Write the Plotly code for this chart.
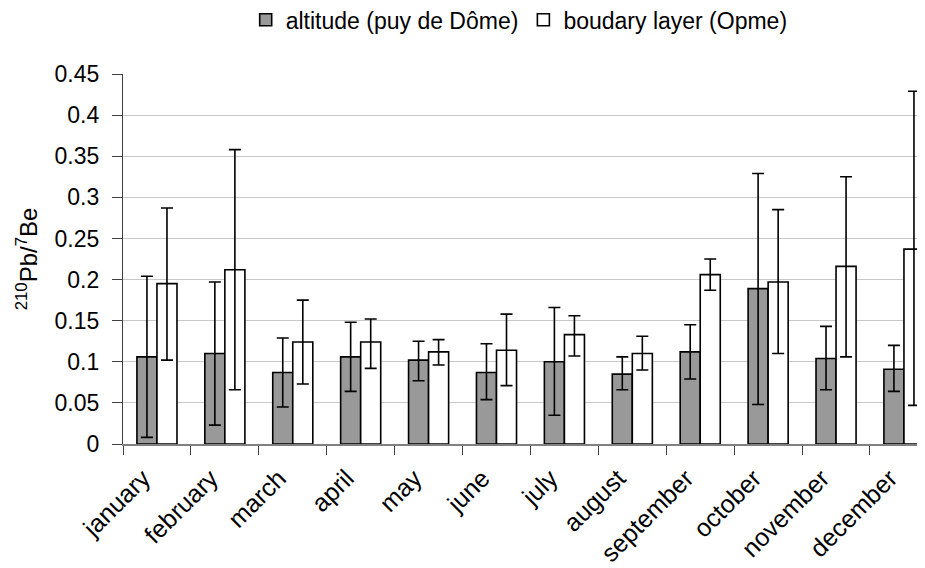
import plotly.graph_objects as go

months = ["january", "february", "march", "april", "may", "june", "july",
          "august", "september", "october", "november", "december"]

alt_mean = [0.106, 0.110, 0.087, 0.106, 0.102, 0.087, 0.100, 0.085, 0.112, 0.189, 0.104, 0.091]
alt_high = [0.204, 0.197, 0.129, 0.148, 0.125, 0.122, 0.166, 0.106, 0.145, 0.329, 0.143, 0.120]
alt_low = [0.008, 0.023, 0.045, 0.064, 0.077, 0.054, 0.035, 0.066, 0.079, 0.048, 0.066, 0.064]

bl_mean = [0.195, 0.212, 0.124, 0.124, 0.112, 0.114, 0.133, 0.110, 0.206, 0.197, 0.216, 0.237]
bl_high = [0.287, 0.358, 0.175, 0.152, 0.127, 0.158, 0.156, 0.131, 0.225, 0.285, 0.325, 0.429]
bl_low = [0.102, 0.066, 0.073, 0.092, 0.096, 0.071, 0.107, 0.090, 0.187, 0.110, 0.106, 0.047]

y_ticks = [0, 0.05, 0.1, 0.15, 0.2, 0.25, 0.3, 0.35, 0.4, 0.45]
y_tick_text = ["0", "0.05", "0.1", "0.15", "0.2", "0.25", "0.3", "0.35", "0.4", "0.45"]

FONT = "Liberation Sans, Arial, sans-serif"

def err(mean, high, low):
    return dict(type="data", symmetric=False,
                array=[h - m for h, m in zip(high, mean)],
                arrayminus=[m - l for m, l in zip(mean, low)],
                color="black", thickness=1.6, width=6)

fig = go.Figure()
fig.add_trace(go.Bar(
    name="altitude (puy de Dôme)", x=months, y=alt_mean,
    marker=dict(color="#999999", line=dict(color="black", width=1.6)),
    error_y=err(alt_mean, alt_high, alt_low), cliponaxis=False,
))
fig.add_trace(go.Bar(
    name="boudary layer (Opme)", x=months, y=bl_mean,
    marker=dict(color="white", line=dict(color="black", width=1.6)),
    error_y=err(bl_mean, bl_high, bl_low), cliponaxis=False,
))

# page body has an 8px default margin, so the figure is shifted by 8px
fig.update_layout(
    width=917, height=560,
    margin=dict(l=115, r=0, t=66, b=124),
    paper_bgcolor="white", plot_bgcolor="white",
    font=dict(family=FONT, size=22, color="black"),
    barmode="group", bargap=0.41, bargroupgap=0,
    legend=dict(orientation="h", x=0.494, xanchor="center", y=0.979, yref="container",
                yanchor="middle", font=dict(size=23), itemwidth=30,
                bgcolor="rgba(0,0,0,0)"),
    showlegend=True,
)
fig.update_xaxes(
    type="category", range=[-0.5, 11.31], automargin=False,
    tickson="boundaries", ticks="outside", ticklen=9, tickcolor="#404040",
    showline=True, linecolor="#808080", linewidth=1.5,
    tickangle=-45, tickfont=dict(size=25), ticklabelstandoff=8, ticklabelshift=-14,
    showgrid=False,
)
fig.update_yaxes(
    range=[0, 0.45], tickvals=y_ticks, ticktext=y_tick_text, automargin=False,
    ticks="outside", ticklen=10, tickcolor="#404040",
    showline=True, linecolor="#404040", linewidth=1.2,
    showgrid=True, gridcolor="#c8c8c8", gridwidth=1.2,
    tickfont=dict(size=23), zeroline=False, ticklabelstandoff=8,
    title=dict(text="<sup>210</sup>Pb/<sup>7</sup>Be", font=dict(size=24), standoff=10),
)

fig.write_html("out.html")
